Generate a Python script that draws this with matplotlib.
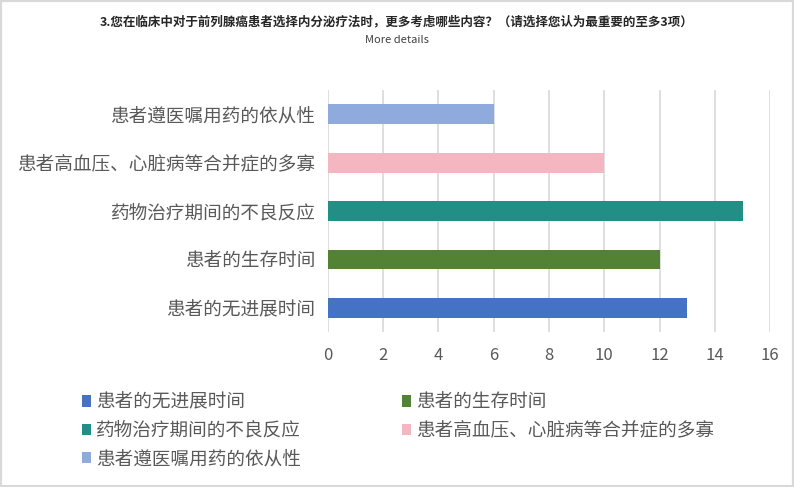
import matplotlib.pyplot as plt
from matplotlib.patches import Patch, Rectangle

plt.rcParams['font.family'] = ['Noto Sans CJK SC', 'DejaVu Sans']

# data (bottom to top, as drawn)
categories = ['患者的无进展时间', '患者的生存时间', '药物治疗期间的不良反应',
              '患者高血压、心脏病等合并症的多寡', '患者遵医嘱用药的依从性']
values = [13, 12, 15, 10, 6]
colors = ['#4472C4', '#548235', '#238E86', '#F4B6C0', '#8FAADC']
x_ticks = [0, 2, 4, 6, 8, 10, 12, 14, 16]

title = '3.您在临床中对于前列腺癌患者选择内分泌疗法时，更多考虑哪些内容？（请选择您认为最重要的至多3项）'
subtitle = 'More details'

text_color = '#595959'
grid_color = '#D9D9D9'

fig = plt.figure(figsize=(7.94, 4.87), dpi=100)
fig.patches.append(Rectangle((0, 0), 1, 1, transform=fig.transFigure,
                             fill=False, edgecolor='#D9D9D9', linewidth=3))

ax = fig.add_axes([0.413, 0.318, 0.557, 0.497])
ax.barh(range(len(categories)), values, height=0.41, color=colors, zorder=3)

ax.set_xlim(0, 16)
ax.set_ylim(-0.5, len(categories) - 0.5)
ax.set_xticks(x_ticks)
ax.set_xticklabels([str(t) for t in x_ticks])
ax.set_yticks(range(len(categories)))
ax.set_yticklabels(categories)
ax.tick_params(axis='both', length=0, colors=text_color)
ax.tick_params(axis='y', labelsize=13.4, pad=9)
ax.tick_params(axis='x', labelsize=12, pad=11)
ax.grid(axis='x', color=grid_color, linewidth=1.2, zorder=0)
for side in ['top', 'right', 'bottom', 'left']:
    ax.spines[side].set_visible(False)

fig.text(0.5, 0.955, title, ha='center', va='center', fontsize=9,
         fontweight='bold', color='#262626')
fig.text(0.5, 0.918, subtitle, ha='center', va='center', fontsize=8,
         color='#404040')

# legend filled row by row like the reference (matplotlib fills by column)
order = [0, 2, 4, 1, 3]
handles = [Patch(facecolor=colors[i]) for i in order]
labels = [categories[i] for i in order]
fig.legend(handles, labels, loc='upper left', ncol=2,
           bbox_to_anchor=(0.082, 0.226), frameon=False, fontsize=13.4,
           labelcolor=text_color, handlelength=0.5, handleheight=0.55,
           handletextpad=0.25, columnspacing=5.44, labelspacing=0.55,
           borderpad=0.4)

fig.savefig('out.png', dpi=100)
